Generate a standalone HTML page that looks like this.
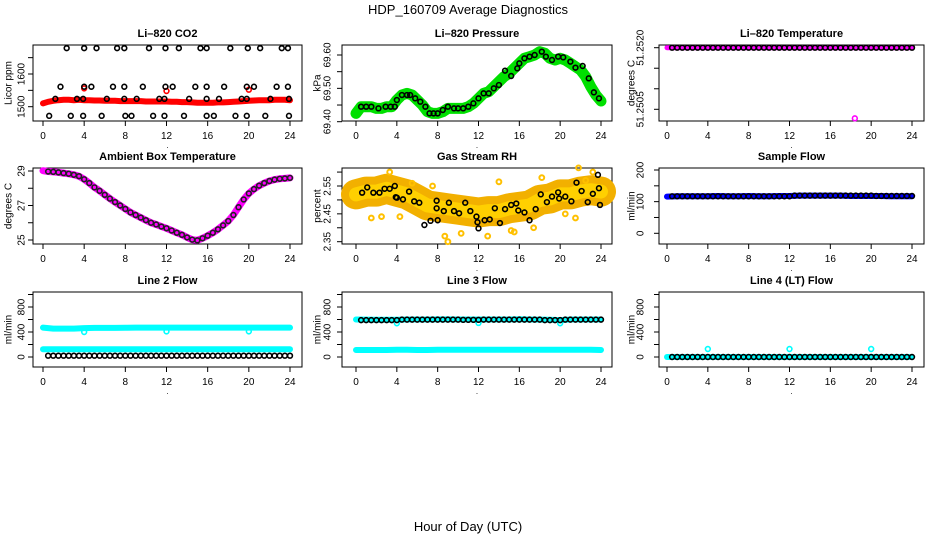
<!DOCTYPE html>
<html><head><meta charset="utf-8">
<style>
body{margin:0;background:#fff;}
svg{display:block;font-family:"Liberation Sans",Arial,sans-serif;}
.t{font-size:11px;font-weight:bold;text-anchor:middle;}
.tk{font-size:10px;text-anchor:middle;}
</style></head>
<body>
<svg id="c" width="936" height="540" viewBox="0 0 936 540">
<text x="468" y="14" font-size="13" text-anchor="middle">HDP_160709  Average Diagnostics</text>
<text x="468" y="531" font-size="13" text-anchor="middle">Hour of Day (UTC)</text>
</svg>
<script>
// ---------- data ----------
const xTicks = [0,4,8,12,16,20,24];
const halfHours = []; for (let i=0;i<=48;i++) halfHours.push(i*0.5);
const hours = []; for (let i=0;i<=24;i++) hours.push(i);
const circHours = halfHours.slice(1);

// Li-820 CO2
const co2Red = [1510,1515,1518,1520,1521,1521,1520,1521,1520,1520,1519,1519,1518,1518,1518,1517,1517,1517,1517,1517,1516,1516,1516,1516,1516,1515,1515,1514,1514,1513,1512,1512,1512,1512,1513,1513,1514,1515,1516,1517,1518,1519,1520,1520,1520,1521,1521,1521,1520];
const co2TopH = [2.3,4.0,5.2,7.2,7.9,10.3,11.9,13.2,15.3,15.9,18.2,19.9,21.1,23.2,23.8];
const co2MidH = [1.7,4.0,4.7,6.8,7.9,9.7,11.9,12.6,14.8,15.9,17.6,19.8,20.5,22.7,23.8];
const co2LowH = [0.6,2.7,3.9,5.7,8.0,8.6,10.7,11.8,13.7,15.9,16.6,18.7,19.8,21.6,23.9];
const co2BandH = [1.2,3.3,3.9,6.2,7.9,9.1,11.3,11.8,14.2,15.9,17.1,19.3,19.8,22.1,23.9];
const co2TopV = 1679, co2MidV = 1561, co2LowV = 1472, co2BandV = 1524;
const co2RedOut = [[4.0,1556],[12.0,1548],[20.0,1552]];

// Li-820 Pressure
const presGreen = [69.425,69.445,69.445,69.445,69.44,69.44,69.445,69.445,69.465,69.48,69.485,69.48,69.465,69.45,69.43,69.425,69.425,69.43,69.44,69.44,69.44,69.44,69.445,69.455,69.47,69.485,69.49,69.505,69.52,69.535,69.545,69.56,69.575,69.59,69.595,69.6,69.61,69.605,69.59,69.585,69.59,69.585,69.575,69.565,69.555,69.535,69.505,69.48,69.462];
const presCircH = [0.5,1,1.5,2.2,2.9,3.4,3.8,4,4.5,5,5.3,5.8,6.3,6.8,7.2,7.6,8,8.5,9,9.6,10,10.5,11,11.5,12,12.5,13,13.5,14,14.6,15.2,15.8,16,16.5,17,17.5,18.2,18.6,19.2,19.8,20.3,21,21.5,22.2,22.8,23.3,23.8];
const presCircV = [69.445,69.445,69.445,69.44,69.445,69.445,69.445,69.465,69.48,69.48,69.48,69.47,69.46,69.445,69.425,69.425,69.425,69.435,69.445,69.44,69.44,69.44,69.445,69.455,69.47,69.485,69.485,69.5,69.51,69.553,69.537,69.56,69.575,69.59,69.595,69.6,69.61,69.595,69.585,69.595,69.593,69.58,69.562,69.567,69.53,69.488,69.47];

// Li-820 Temperature
const tempLine = [51.2520,51.2520,51.2520,51.2520,51.2520,51.2520,51.2520,51.2520,51.2520,51.2520,51.2520,51.2520,51.2520,51.2520,51.2520,51.2520,51.2520,51.2520,51.2520,51.2520,51.2520,51.2520,51.2520,51.2520,51.2520];
const tempCirc = [51.2520,51.2520,51.2520,51.2520,51.2520,51.2520,51.2520,51.2520,51.2520,51.2520,51.2520,51.2520,51.2520,51.2520,51.2520,51.2520,51.2520,51.2520,51.2520,51.2520,51.2520,51.2520,51.2520,51.2520,51.2520,51.2520,51.2520,51.2520,51.2520,51.2520,51.2520,51.2520,51.2520,51.2520,51.2520,51.2520,51.2520,51.2520,51.2520,51.2520,51.2520,51.2520,51.2520,51.2520,51.2520,51.2520,51.2520,51.2520];
const tempOut = [18.4, 51.25028];

// Ambient Box Temperature
const boxH = [0,0.5,1,1.5,2,2.5,3,3.5,4,4.5,5,5.5,6,6.5,7,7.5,8,8.5,9,9.5,10,10.5,11,11.5,12,12.5,13,13.5,14,14.5,15,15.5,16,16.5,17,17.5,18,18.5,19,19.5,20,20.5,21,21.5,22,22.5,23,23.5,24];
const boxV = [29.02,28.97,28.95,28.92,28.88,28.84,28.78,28.7,28.52,28.3,28.05,27.85,27.62,27.4,27.2,27.0,26.8,26.6,26.45,26.3,26.15,26.0,25.9,25.78,25.68,25.55,25.42,25.3,25.15,25.02,24.98,25.1,25.25,25.42,25.62,25.85,26.1,26.45,26.9,27.35,27.7,27.95,28.15,28.3,28.42,28.5,28.55,28.57,28.6];

// Gas Stream RH
const rhTrend = [2.52,2.53,2.53,2.54,2.53,2.52,2.50,2.48,2.475,2.47,2.465,2.46,2.455,2.46,2.46,2.47,2.475,2.48,2.50,2.505,2.52,2.52,2.53,2.535,2.53];
const rhCircH = [0.6,1.1,1.7,2.3,2.8,3.3,3.8,3.9,4.0,4.6,5.2,5.7,6.2,6.7,7.3,7.9,7.9,8.0,8.6,9.1,9.6,10.1,10.7,11.2,11.8,11.9,12.0,12.6,13.1,13.6,14.1,14.6,15.2,15.7,15.9,16.5,17.0,17.6,18.1,18.7,19.2,19.8,19.9,20.5,21.1,21.6,22.1,22.7,23.2,23.7,23.8,23.9];
const rhCircV = [2.526,2.545,2.526,2.526,2.54,2.54,2.55,2.51,2.508,2.502,2.53,2.495,2.49,2.41,2.425,2.497,2.47,2.427,2.46,2.49,2.46,2.452,2.49,2.46,2.44,2.42,2.398,2.427,2.43,2.47,2.417,2.467,2.482,2.487,2.462,2.455,2.427,2.467,2.52,2.492,2.512,2.527,2.505,2.512,2.495,2.562,2.532,2.492,2.522,2.59,2.542,2.482];
const rhYellowH = [1.5,2.5,3.3,4.3,5.5,7.5,8.7,9.0,10.3,12.9,14.0,15.2,15.5,17.4,18.2,20.5,21.5,21.8,22.5,23.2];
const rhYellowV = [2.435,2.44,2.6,2.44,2.56,2.55,2.37,2.35,2.38,2.37,2.565,2.39,2.385,2.40,2.58,2.45,2.435,2.615,2.57,2.60];

// Sample Flow
const sfBand = [116,117,117,117,117,118,117,117,118,117,117,118,118,119,119,119,119,119,118,118,118,118,117,117,117];
const sfCirc = [117,117,117,117,117,117,117,117,117,117,117,117,117,117,117,117,117,117,117,117,117,117,117,117,119,119,119,119,119,119,119,119,119,119,119,119,119,119,119,119,118,118,118,118,118,118,118,118];

// Line 2 Flow
const l2Upper = [470,455,455,455,462,465,465,465,468,470,470,470,470,470,470,470,470,470,470,470,470,470,470,470,470];
const l2Lower = [123,123,123,123,123,123,123,123,123,123,123,123,123,123,123,123,123,123,123,123,123,123,123,123,123];
const l2Black = [21,21,21,21,21,21,21,21,21,21,21,21,21,21,21,21,21,21,21,21,21,21,21,21,21,21,21,21,21,21,21,21,21,21,21,21,21,21,21,21,21,21,21,21,21,21,21,21];
const l2DipH = [4,12,20];
const l2DipV = [400,410,410];

// Line 3 Flow
const l3Upper = [600,598,595,595,597,600,600,600,602,602,600,600,600,600,600,600,605,600,598,595,590,600,600,600,600];
const l3Lower = [112,112,112,112,115,115,112,112,115,115,115,115,115,115,115,115,115,115,115,115,115,115,115,115,112];
const l3Black = [590,590,590,590,590,590,590,590,598,598,598,598,598,598,598,598,598,598,598,598,595,595,595,595,598,598,598,598,598,598,598,598,598,598,598,598,590,590,590,590,598,598,598,598,598,598,598,598];
const l3DipH = [4,12,20];
const l3DipV = [540,545,540];

// Line 4 Flow
const l4Band = [0,0,0,0,0,0,0,0,0,0,0,0,0,0,0,0,0,0,0,0,0,0,0,0,0];
const l4Black = [0,0,0,0,0,0,0,0,0,0,0,0,0,0,0,0,0,0,0,0,0,0,0,0,0,0,0,0,0,0,0,0,0,0,0,0,0,0,0,0,0,0,0,0,0,0,0,0];
const l4OutH = [4,12,20];
const l4OutV = [128,128,128];

// ---------- drawing ----------
const svg = document.getElementById('c');
const NS = 'http://www.w3.org/2000/svg';
function mk(tag, attrs, parent){
  const e = document.createElementNS(NS, tag);
  for (const k in attrs) e.setAttribute(k, attrs[k]);
  (parent||svg).appendChild(e);
  return e;
}
const cols = [{b0:33,b1:302,h0:43,h1:290,tl:22,yl:9},{b0:342,b1:612,h0:356,h1:601,tl:328,yl:318},{b0:659,b1:924,h0:667,h1:912,tl:641,yl:632}];
const rows = [{t:45,b:121},{t:168,b:244},{t:292,b:367}];

function panel(ci, ri, title, ylab, v1, p1, v2, p2, ticks, labels, name){
  const c = cols[ci], r = rows[ri];
  const g = mk('g', {});
  
  
  const X = h => c.h0 + (c.h1 - c.h0) * h / 24;
  const Y = v => p1 + (v - v1) * (p2 - p1) / (v2 - v1);
  const t = mk('text', {x:(c.b0+c.b1)/2, y:r.t-8, class:'t'}, g);
  t.textContent = title;
  
  
  const box = mk('rect', {x:c.b0, y:r.t, width:c.b1-c.b0, height:r.b-r.t, fill:'none', stroke:'#000', 'stroke-width':1}, g);
  
  
  xTicks.forEach(h => {
    mk('line', {x1:X(h), x2:X(h), y1:r.b, y2:r.b+5, stroke:'#000'}, g);
    const l = mk('text', {x:X(h), y:r.b+18, class:'tk'}, g);
    l.textContent = h;
    
    
  });
  ticks.forEach(v => {
    mk('line', {x1:c.b0-5, x2:c.b0, y1:Y(v), y2:Y(v), stroke:'#000'}, g);
  });
  labels.forEach(v => {
    const l = mk('text', {x:c.tl, y:Y(v), class:'tk', transform:`rotate(-90 ${c.tl} ${Y(v)})`, 'dominant-baseline':'middle'}, g);
    l.textContent = v;
    
    
  });
  const midY = (r.t + r.b) / 2;
  const yl = mk('text', {x:c.yl, y:midY, 'font-size':10, 'text-anchor':'middle', transform:`rotate(-90 ${c.yl} ${midY})`, 'dominant-baseline':'middle'}, g);
  yl.textContent = ylab;
  
  
  mk('text', {x:(c.b0+c.b1)/2, y:r.b+27, 'font-size':8, 'text-anchor':'middle'}, g).textContent = '.';
  return {g, X, Y};
}
function band(P, hs, vs, color, w, name){
  const pts = hs.map((h,i) => P.X(h).toFixed(1)+','+P.Y(vs[i]).toFixed(1)).join(' ');
  const e = mk('polyline', {points:pts, fill:'none', stroke:color, 'stroke-width':w, 'stroke-linejoin':'round', 'stroke-linecap':'round'}, P.g);
  
  
}
function circles(P, hs, vs, color, name, r, sw){
  hs.forEach((h,i) => {
    const e = mk('circle', {cx:P.X(h), cy:P.Y(vs[i]), r:r||2.4, fill:'none', stroke:color, 'stroke-width':sw||1.6}, P.g);
    
    
  });
}
const rep = (arr, v) => arr.map(() => v);

// P1
let P = panel(0,0,'Li\u2013820 CO2','Licor ppm',1500,106.7,1600,74,[1500,1550,1600,1650],[1500,1600],'panel-co2');
band(P, halfHours, co2Red, '#ff0000', 6, 'co2-red-series');
circles(P, co2RedOut.map(d=>d[0]), co2RedOut.map(d=>d[1]), '#ff0000', 'co2-red-point');
circles(P, co2TopH, rep(co2TopH, co2TopV), '#000', 'co2-point');
circles(P, co2MidH, rep(co2MidH, co2MidV), '#000', 'co2-point');
circles(P, co2LowH, rep(co2LowH, co2LowV), '#000', 'co2-point');
circles(P, co2BandH, rep(co2BandH, co2BandV), '#000', 'co2-point');

// P2
P = panel(1,0,'Li\u2013820 Pressure','kPa',69.40,121.7,69.60,55,[69.40,69.45,69.50,69.55,69.60],['69.40','69.50','69.60'],'panel-pressure');
band(P, halfHours, presGreen, '#00e000', 11, 'pressure-green-series');
circles(P, presCircH, presCircV, '#000', 'pressure-point');

// P3
P = panel(2,0,'Li\u2013820 Temperature','degrees C',51.2505,109.3,51.2520,47.7,[51.2505,51.2510,51.2515,51.2520],['51.2505','51.2520'],'panel-li820-temp');
band(P, hours, tempLine, '#ff00ff', 5, 'temp-magenta-series');
circles(P, circHours, tempCirc, '#000', 'temp-point');
circles(P, [tempOut[0]], [tempOut[1]], '#ff00ff', 'temp-outlier');

// P4
P = panel(0,1,'Ambient Box Temperature','degrees C',25,240,29,171,[25,26,27,28,29],[25,27,29],'panel-box-temp');
band(P, boxH, boxV, '#ff00ff', 7, 'box-temp-magenta-series');
circles(P, boxH.slice(1), boxV.slice(1), '#222', 'box-temp-point');

// P5
P = panel(1,1,'Gas Stream RH','percent',2.35,241.7,2.55,186,[2.35,2.40,2.45,2.50,2.55,2.60],['2.35','2.45','2.55'],'panel-rh');
band(P, hours, rhTrend, '#f2b000', 30, 'rh-orange-cloud');
band(P, hours, rhTrend, '#ffd000', 14, 'rh-yellow-core');
circles(P, rhYellowH, rhYellowV, '#ffc000', 'rh-yellow-point', 2.4, 2);
circles(P, rhCircH, rhCircV, '#000', 'rh-point');

// P6
P = panel(2,1,'Sample Flow','ml/min',0,233.3,200,170,[0,50,100,150,200],[0,100,200],'panel-sample-flow');
band(P, hours, sfBand, '#0000ff', 6, 'sample-flow-blue-series');
circles(P, circHours, sfCirc, '#000', 'sample-flow-point');

// P7
const fT = [0,200,400,600,800,1000], fL = [0,400,800];
P = panel(0,2,'Line 2 Flow','ml/min',0,357,800,307,fT,fL,'panel-line2');
band(P, hours, l2Upper, '#00ffff', 6, 'line2-upper-series');
band(P, hours, l2Lower, '#00ffff', 6, 'line2-lower-series');
circles(P, l2DipH, l2DipV, '#00ffff', 'line2-dip');
circles(P, circHours, l2Black, '#000', 'line2-point');

// P8
P = panel(1,2,'Line 3 Flow','ml/min',0,357,800,307,fT,fL,'panel-line3');
band(P, hours, l3Upper, '#00ffff', 6, 'line3-upper-series');
band(P, hours, l3Lower, '#00ffff', 6, 'line3-lower-series');
circles(P, l3DipH, l3DipV, '#00ffff', 'line3-dip');
circles(P, circHours, l3Black, '#000', 'line3-point');

// P9
P = panel(2,2,'Line 4 (LT) Flow','ml/min',0,357,800,307,fT,fL,'panel-line4');
band(P, hours, l4Band, '#00ffff', 6, 'line4-series');
circles(P, circHours, l4Black, '#000', 'line4-point');
circles(P, l4OutH, l4OutV, '#00ffff', 'line4-outlier');
</script>
</body></html>
